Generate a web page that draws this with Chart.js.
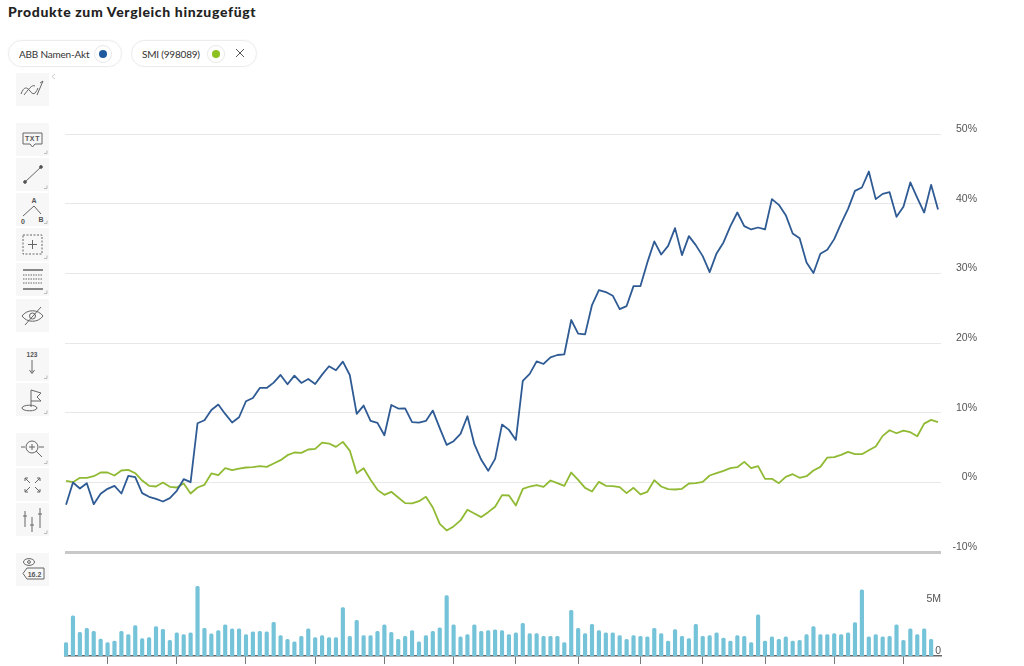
<!DOCTYPE html>
<html lang="de">
<head>
<meta charset="utf-8">
<title>Produkte zum Vergleich</title>
<script src="https://cdn.jsdelivr.net/npm/chart.js@4"></script>
<style>
  html, body { margin: 0; padding: 0; background: #fff; overflow: hidden; }
  body { position: relative; width: 1024px; height: 666px; font-family: Lato, sans-serif; color: #333; }
  h1 { position: absolute; left: 8px; top: 3px; margin: 0; font-size: 14px; line-height: 18px; font-weight: 900; letter-spacing: .64px; color: #222; white-space: nowrap; }
  .chip { position: absolute; top: 40px; height: 25px; border: 1px solid #ececec; border-radius: 14px; box-shadow: 0 0 2px rgba(0,0,0,.05); box-sizing: content-box; }
  .chip span { position: absolute; top: 6px; left: 10px; font-size: 10px; line-height: 14px; letter-spacing: -.2px; color: #333; white-space: nowrap; }
  .chip i { position: absolute; top: 4px; width: 16px; height: 16px; border: 1px solid #e8e8e8; border-radius: 50%; }
  .chip i::after { content: ''; position: absolute; left: 4px; top: 4px; width: 8px; height: 8px; border-radius: 50%; background: var(--dot); }
  .chip svg { position: absolute; top: 7px; left: 103px; }
  canvas { position: absolute; left: 0; }
  .tool { position: absolute; left: 16px; width: 33px; height: 33px; background: #f7f7f7; }
  .tool svg { display: block; }
  .collapse { position: absolute; left: 51px; top: 73px; }
</style>
</head>
<body>
<h1>Produkte zum Vergleich hinzugefügt</h1>
<div class="chip" style="left:8px;width:112px"><span>ABB Namen-Akt</span><i style="left:85px;--dot:#1f5a9e"></i></div>
<div class="chip" style="left:131px;width:124px"><span>SMI (998089)</span><i style="left:75px;--dot:#8dc11f"></i>
  <svg width="10" height="10" viewBox="0 0 10 10"><path d="M1 1 L9 9 M9 1 L1 9" stroke="#555" stroke-width="1" fill="none"/></svg></div>
<svg class="collapse" width="5" height="7" viewBox="0 0 5 7"><path d="M4 1 L1 3.5 L4 6" stroke="#ccc" fill="none"/></svg>
<div id="toolbar"></div>
<canvas id="perfChart" width="1024" height="436" style="top:124px"></canvas>
<canvas id="volChart" width="1024" height="96" style="top:570px"></canvas>

<script>
// Wertentwicklung in Prozent, je Handelstag
const abbPerf = [
  -3.23, -0.02, -0.88, -0.12, -3.13, -1.65, -0.93, -0.50, -1.60, 0.93,
  0.74, -1.55, -2.08, -2.37, -2.75, -2.27, -1.22, 0.45, 0.02, 8.48,
  8.91, 10.39, 11.16, 9.82, 8.58, 9.34, 11.64, 12.11, 13.55, 13.55,
  14.31, 15.41, 14.07, 15.32, 14.27, 14.84, 14.12, 15.46, 16.66, 16.08,
  17.32, 15.41, 9.82, 11.02, 8.82, 8.53, 6.76, 11.11, 10.59, 10.63,
  8.63, 8.58, 8.82, 10.30, 7.77, 5.38, 5.90, 6.95, 9.49, 5.47,
  3.23, 1.65, 3.37, 8.29, 7.53, 6.09, 14.55, 15.56, 17.37, 16.99,
  17.95, 18.28, 18.38, 23.30, 21.34, 21.24, 25.45, 27.60, 27.31, 26.79,
  24.87, 25.30, 28.17, 28.17, 31.57, 34.58, 32.71, 33.95, 36.49, 32.62,
  35.34, 34.05, 32.47, 30.18, 32.86, 34.43, 36.77, 38.73, 36.77, 36.30,
  36.58, 36.30, 40.65, 39.83, 38.35, 35.72, 35.05, 31.57, 30.04, 32.81,
  33.38, 34.91, 37.16, 39.26, 41.84, 42.32, 44.61, 40.65, 41.41, 41.65,
  38.11, 39.55, 43.04, 40.84, 38.73, 42.70, 39.16
];
const smiPerf = [
  0.22, 0.02, 0.65, 0.65, 0.88, 1.41, 1.41, 0.98, 1.70, 1.79,
  1.31, 0.26, -0.50, -0.60, -0.02, -0.65, -0.74, -0.17, -1.60, -0.74,
  -0.36, 1.27, 1.03, 2.03, 1.74, 1.98, 2.13, 2.17, 2.32, 2.22,
  2.70, 3.18, 3.90, 4.28, 4.23, 4.71, 4.80, 5.71, 5.57, 5.09,
  5.81, 4.56, 1.31, 2.03, 0.36, -1.08, -1.79, -1.36, -2.17, -2.99,
  -3.03, -2.70, -2.08, -3.61, -5.95, -6.91, -6.33, -5.47, -3.94, -4.47,
  -4.99, -4.28, -3.51, -1.84, -1.89, -3.32, -0.93, -0.60, -0.41, -0.65,
  0.26, -0.12, -0.50, 1.41, 0.36, -0.79, -1.31, 0.07, -0.50, -0.55,
  -0.69, -1.55, -0.79, -1.74, -1.36, 0.31, -0.60, -0.98, -1.03, -0.93,
  -0.17, -0.12, 0.07, 0.98, 1.31, 1.65, 2.03, 2.17, 2.94, 2.03,
  2.32, 0.50, 0.50, -0.12, 0.79, 1.17, 0.65, 0.88, 1.70, 2.22,
  3.56, 3.61, 3.94, 4.37, 4.04, 4.04, 4.61, 5.14, 6.67, 7.48,
  7.05, 7.43, 7.19, 6.62, 8.43, 8.96, 8.63
];
// Handelsvolumen in Millionen Stück
const volume = [
  1.28, 3.85, 2.28, 2.66, 2.37, 1.63, 1.28, 1.44, 2.37, 2.05,
  2.92, 1.67, 1.76, 2.82, 2.56, 1.51, 2.21, 2.05, 2.21, 6.67,
  2.66, 2.12, 2.44, 2.98, 2.60, 2.60, 2.05, 2.31, 2.37, 2.31,
  3.24, 1.96, 1.60, 1.35, 1.89, 2.60, 1.76, 1.96, 1.76, 1.76,
  4.65, 1.89, 3.43, 1.96, 1.96, 2.37, 2.98, 2.28, 1.60, 1.89,
  2.44, 1.35, 1.96, 2.37, 2.69, 5.80, 2.98, 1.83, 2.05, 2.98,
  2.37, 2.44, 2.50, 2.44, 2.05, 2.21, 3.14, 2.15, 2.15, 1.89,
  1.89, 1.89, 1.28, 4.39, 2.66, 2.15, 3.04, 2.44, 2.21, 2.21,
  1.96, 1.60, 1.96, 1.89, 1.83, 2.66, 2.15, 1.44, 2.53, 1.89,
  1.67, 3.04, 1.89, 1.96, 2.21, 1.73, 1.44, 1.96, 1.89, 1.28,
  3.94, 1.44, 1.83, 1.60, 1.83, 1.44, 1.51, 2.05, 2.82, 2.05,
  2.05, 2.15, 2.05, 2.21, 3.21, 6.35, 1.83, 2.05, 1.83, 1.89,
  2.98, 1.51, 2.60, 2.05, 2.60, 1.60
];
// Handelstage, an denen die Zeitachse einen Strich hat
const monthTicks = [6, 16, 26, 36, 46, 56, 65, 74, 83, 92, 101, 111, 121];
const perfTicks = [-10, 0, 10, 20, 30, 40, 50];
const volTicks = [0, 5];

const toPoints = values => values.map((y, x) => ({ x, y }));

const TICK_FONT = { family: "'Liberation Sans', Arial, sans-serif", size: 10.5 };
const X_RANGE = { min: -0.15, max: 126.43 };

Chart.defaults.animation = false;
Chart.defaults.responsive = false;
Chart.defaults.plugins.legend.display = false;
Chart.defaults.plugins.tooltip.enabled = false;

new Chart(document.getElementById('perfChart'), {
  type: 'line',
  data: {
    datasets: [
      { label: 'ABB Namen-Akt', data: toPoints(abbPerf), borderColor: '#2f5b94', borderWidth: 1.8, pointRadius: 0, tension: 0, borderJoinStyle: 'round' },
      { label: 'SMI (998089)', data: toPoints(smiPerf), borderColor: '#90ba33', borderWidth: 1.8, pointRadius: 0, tension: 0, borderJoinStyle: 'round' },
    ],
  },
  options: {
    layout: { padding: { left: 65, right: 47, top: 10, bottom: 8 } },
    scales: {
      x: { type: 'linear', ...X_RANGE, display: false },
      y: {
        position: 'right',
        min: -10,
        max: 50,
        afterBuildTicks: axis => { axis.ticks = perfTicks.map(value => ({ value })); },
        afterFit: axis => {
          axis.width = 36;
          axis.paddingTop = 0;
          axis.paddingBottom = 0;
        },
        border: { display: false },
        grid: {
          drawTicks: false,
          color: ctx => (ctx.tick.value === -10 ? '#c8c8c8' : '#e8e8e8'),
          lineWidth: ctx => (ctx.tick.value === -10 ? 3 : 1),
        },
        ticks: {
          font: TICK_FONT,
          color: '#555',
          crossAlign: 'far',
          labelOffset: -5,
          callback: v => `${v}%`,
        },
      },
    },
  },
});

new Chart(document.getElementById('volChart'), {
  type: 'bar',
  data: {
    datasets: [
      { label: 'Volumen', data: toPoints(volume), backgroundColor: '#74c3d8', barThickness: 3.5, borderRadius: { topLeft: 1.5, topRight: 1.5 }, clip: false },
    ],
  },
  options: {
    layout: { padding: { left: 65, top: 13 } },
    scales: {
      x: {
        type: 'linear',
        ...X_RANGE,
        offset: false,
        afterBuildTicks: axis => { axis.ticks = monthTicks.map(value => ({ value })); },
        afterFit: axis => {
          axis.height = 10;
          axis.paddingLeft = 0;
          axis.paddingRight = 0;
        },
        border: { color: '#666', width: 1.5 },
        grid: { offset: false, drawOnChartArea: false, color: '#777', tickLength: 8 },
        ticks: { display: false, autoSkip: false },
      },
      y: {
        position: 'right',
        min: 0,
        max: 7,
        afterBuildTicks: axis => { axis.ticks = volTicks.map(value => ({ value })); },
        afterFit: axis => {
          axis.width = 83;
          axis.paddingTop = 0;
          axis.paddingBottom = 0;
        },
        border: { display: false },
        grid: { display: false, drawTicks: false },
        ticks: {
          font: TICK_FONT,
          color: '#555',
          mirror: true,
          padding: 0,
          labelOffset: -5,
          callback: v => (v === 0 ? '0' : `${v}M`),
        },
      },
    },
  },
});

// Werkzeugleiste links neben dem Chart
const corner = '<path d="M31 27.5 V30.5 H28" stroke="#bbb" stroke-width="1" fill="none"/>';
const tools = [
  [73, false, '<path d="M5 21 C8 13 11 14 14 18 S19 22 22 15 M8 22 C12 17 16 11 19 13 M21 22 L27 8 M24 10 L27 8" fill="none"/>'],
  [123, true, '<path d="M7 10 H26 V21 H19 L16.5 24 L14 21 H7 Z" fill="none"/><text x="16.5" y="18" text-anchor="middle" font-size="7" font-weight="700" fill="#555" stroke="none" letter-spacing=".6">TXT</text>'],
  [158, true, '<path d="M9 24 L25 9" fill="none"/><circle cx="9" cy="24" r="1.4" fill="#444"/><circle cx="25" cy="9" r="1.4" fill="#444"/>'],
  [193, true, '<text x="18" y="10" text-anchor="middle" font-size="7" font-weight="700" fill="#555" stroke="none">A</text><text x="7" y="31" text-anchor="middle" font-size="7" font-weight="700" fill="#555" stroke="none">0</text><text x="25" y="29" text-anchor="middle" font-size="7" font-weight="700" fill="#555" stroke="none">B</text><path d="M7 23 L18 13 L25 21" fill="none"/>'],
  [228, true, '<rect x="7" y="7" width="19" height="19" fill="none" stroke-dasharray="2 1.5"/><path d="M16.5 12 V21 M12 16.5 H21" fill="none"/>'],
  [263, true, '<path d="M7 7 H27 M7 26 H27" fill="none" stroke-width="1.4"/><path d="M7 12 H27 M7 16 H27 M7 20 H27" fill="none" stroke-dasharray="1.5 1"/>'],
  [299, false, '<path d="M6 17 C11 10 22 10 27 17 C22 24 11 24 6 17 Z" fill="none"/><circle cx="16.5" cy="17" r="3" fill="none"/><path d="M9 26 L25 8" fill="none"/>'],
  [348, true, '<text x="16" y="9" text-anchor="middle" font-size="6.5" font-weight="700" fill="#555" stroke="none">123</text><path d="M16 12 V25 M13.5 22 L16 25.5 L18.5 22" fill="none"/>'],
  [383, true, '<path d="M15 24 V7 L25 10 L21 14 L25 18 L15 18" fill="none"/><ellipse cx="13.5" cy="25" rx="7.5" ry="2.8" fill="none"/>'],
  [433, true, '<circle cx="16" cy="14" r="6" fill="none"/><path d="M16 11 V17 M13 14 H19 M20 18 L26 24 M5 14 H9 M23 14 H28" fill="none"/>'],
  [468, false, '<path d="M9 10 L14 15 M24 10 L19 15 M9 24 L14 19 M24 24 L19 19 M9 10 V13 M9 10 H12 M24 10 V13 M24 10 H21 M9 24 V21 M9 24 H12 M24 24 V21 M24 24 H21" fill="none"/>'],
  [503, true, '<path d="M9 8 V24 M16 14 V29 M24 5 V25 M7 13 H11 M14 22 H18 M22 11 H26" fill="none"/>'],
  [553, false, '<ellipse cx="13" cy="9" rx="5.5" ry="3.4" fill="none"/><circle cx="13" cy="9" r="1.4" fill="none"/><path d="M11 15 H28 V26 H11 L7 20.5 Z" fill="none"/><text x="18.5" y="23.5" text-anchor="middle" font-size="7" font-weight="700" fill="#555" stroke="none">16.2</text>'],
];
document.getElementById('toolbar').innerHTML = tools.map(([top, hasCorner, icon]) => `
  <div class="tool" style="top:${top}px">
    <svg width="33" height="33" viewBox="0 0 33 33" stroke="#666" stroke-width="1" font-family="'Liberation Sans', Arial, sans-serif">${icon}${hasCorner ? corner : ''}</svg>
  </div>`).join('');
</script>
</body>
</html>
